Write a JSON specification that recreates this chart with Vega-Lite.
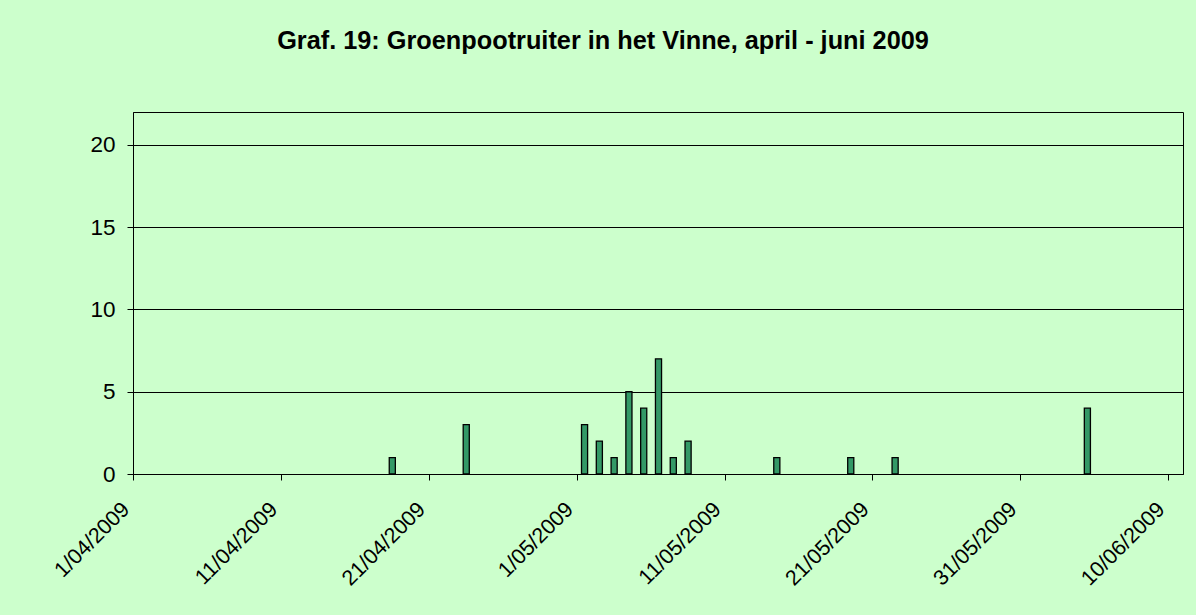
{
  "$schema": "https://vega.github.io/schema/vega-lite/v6.json",
  "autosize": "none",
  "width": 1050,
  "height": 362,
  "padding": {"left": 133, "top": 112, "right": 13, "bottom": 141},
  "background": "#CCFFCC",
  "title": {
    "text": "Graf. 19: Groenpootruiter in het Vinne, april - juni 2009",
    "font": "Liberation Sans",
    "fontSize": 25.3,
    "fontWeight": "bold",
    "color": "#000000",
    "anchor": "middle",
    "baseline": "alphabetic",
    "offset": 38,
    "dx": -55
  },
  "config": {
    "view": {"stroke": "#000000", "strokeWidth": 1, "fill": "#CCFFCC"},
    "axis": {
      "labelFont": "Liberation Sans",
      "labelColor": "#000000",
      "domainColor": "#000000",
      "tickColor": "#000000",
      "tickSize": 6,
      "gridColor": "#000000",
      "gridOpacity": 1,
      "title": null
    }
  },
  "data": {
    "values": [
      {"date": "2009/04/18", "count": 1},
      {"date": "2009/04/23", "count": 3},
      {"date": "2009/05/01", "count": 3},
      {"date": "2009/05/02", "count": 2},
      {"date": "2009/05/03", "count": 1},
      {"date": "2009/05/04", "count": 5},
      {"date": "2009/05/05", "count": 4},
      {"date": "2009/05/06", "count": 7},
      {"date": "2009/05/07", "count": 1},
      {"date": "2009/05/08", "count": 2},
      {"date": "2009/05/14", "count": 1},
      {"date": "2009/05/19", "count": 1},
      {"date": "2009/05/22", "count": 1},
      {"date": "2009/06/04", "count": 4}
    ]
  },
  "mark": {"type": "bar", "fill": "#339966", "stroke": "#000000", "strokeWidth": 1.3, "width": {"band": 0.48}},
  "encoding": {
    "x": {
      "field": "date",
      "type": "temporal",
      "timeUnit": "yearmonthdate",
      "scale": {"domain": [{"year": 2009, "month": 4, "date": 1}, {"year": 2009, "month": 6, "date": 11}]},
      "axis": {
        "values": [
          {"year": 2009, "month": 4, "date": 1},
          {"year": 2009, "month": 4, "date": 11},
          {"year": 2009, "month": 4, "date": 21},
          {"year": 2009, "month": 5, "date": 1},
          {"year": 2009, "month": 5, "date": 11},
          {"year": 2009, "month": 5, "date": 21},
          {"year": 2009, "month": 5, "date": 31},
          {"year": 2009, "month": 6, "date": 10}
        ],
        "format": "%-d/%m/%Y",
        "labelFontSize": 21.5,
        "labelAngle": -45,
        "labelAlign": "right",
        "labelBaseline": "middle",
        "labelPadding": 26,
        "labelOffset": -7,
        "grid": false,
        "labelOverlap": false,
        "labelBound": false,
        "labelFlush": false
      }
    },
    "y": {
      "field": "count",
      "type": "quantitative",
      "scale": {"domain": [0, 22], "nice": false},
      "axis": {"values": [0, 5, 10, 15, 20], "grid": true, "labelFontSize": 22.5, "labelPadding": 12}
    }
  }
}
